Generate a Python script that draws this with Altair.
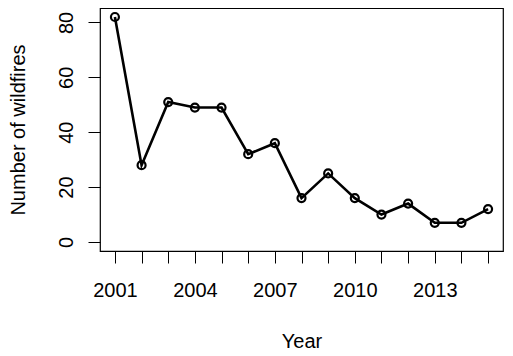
import altair as alt
import pandas as pd

years = list(range(2001, 2016))
wildfires = [82, 28, 51, 49, 49, 32, 36, 16, 25, 16, 10, 14, 7, 7, 12]
x_labels = [2001, 2004, 2007, 2010, 2013]
y_ticks = [0, 20, 40, 60, 80]

df = pd.DataFrame({"Year": years, "Fires": wildfires})

FONT = "Liberation Sans"

x = alt.X("Year:Q",
          scale=alt.Scale(domain=[2000.44, 2015.56], nice=False, zero=False),
          axis=alt.Axis(values=years, domain=False, grid=False, tickSize=12,
                        tickColor="black", tickWidth=1,
                        labelExpr="indexof([2001,2004,2007,2010,2013], datum.value) >= 0 ? datum.value : ''",
                        labelFont=FONT, labelFontSize=20, labelColor="black",
                        labelBaseline="alphabetic", labelPadding=33,
                        labelFlush=False, labelOverlap=False,
                        title="Year", titleFont=FONT, titleFontSize=20,
                        titleFontWeight="normal", titleColor="black",
                        titleBaseline="alphabetic", titleY=96))
y = alt.Y("Fires:Q",
          scale=alt.Scale(domain=[-3.28, 85.28], nice=False, zero=False),
          axis=alt.Axis(values=y_ticks, domain=False, grid=False, tickSize=12,
                        tickColor="black", tickWidth=1,
                        labelAngle=-90, labelAlign="center",
                        labelBaseline="alphabetic", labelPadding=16,
                        labelFont=FONT, labelFontSize=20, labelColor="black",
                        title="Number of wildfires", titleFont=FONT,
                        titleFontSize=20, titleFontWeight="normal",
                        titleColor="black", titleAngle=-90,
                        titleBaseline="alphabetic", titleX=-76))

base = alt.Chart(df)
line = base.mark_line(color="black", strokeWidth=2.6).encode(x=x, y=y)
pts = base.mark_point(shape="circle", filled=False, color="black",
                      size=64, strokeWidth=2.2, opacity=1).encode(x=x, y=y)

chart = (line + pts).properties(
    width=403, height=243,
    background="white",
    autosize=alt.AutoSizeParams(type="none"),
    padding={"left": 92, "top": 0, "right": 2, "bottom": 104},
).configure_view(stroke="black", strokeWidth=1.2)

chart.save("out.html", embed_options={"renderer": "svg", "actions": False})
